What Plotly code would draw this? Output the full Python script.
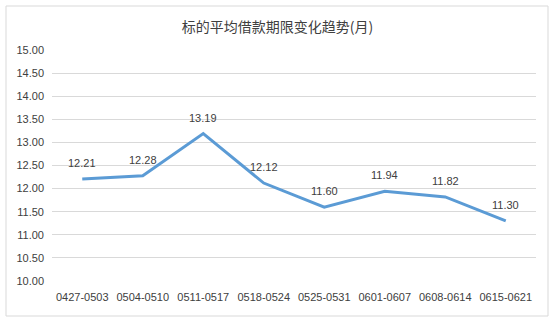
import plotly.graph_objects as go

categories = ["0427-0503", "0504-0510", "0511-0517", "0518-0524",
              "0525-0531", "0601-0607", "0608-0614", "0615-0621"]
values = [12.21, 12.28, 13.19, 12.12, 11.60, 11.94, 11.82, 11.30]
tick_vals = [10.0, 10.5, 11.0, 11.5, 12.0, 12.5, 13.0, 13.5, 14.0, 14.5, 15.0]
title_text = "标的平均借款期限变化趋势(月)"

W, H = 555, 323
L, R, T, B = 52, 19, 50, 42

fig = go.Figure()
fig.add_trace(go.Scatter(
    x=categories, y=values, mode="lines",
    line=dict(color="#5B9BD5", width=3),
    hoverinfo="skip",
))

for c, v in zip(categories, values):
    fig.add_annotation(x=c, y=v, text=f"{v:.2f}", showarrow=False,
                       yshift=16, yanchor="middle", xanchor="center",
                       font=dict(family="Liberation Sans", size=11, color="#404040"))

pw = W - L - R
ph = H - T - B
def px_x(p):
    return (p - L) / pw
def px_y(p):
    return 1 - (p - T) / ph

fig.add_shape(type="rect", xref="paper", yref="paper",
              x0=px_x(6), x1=px_x(548), y0=px_y(316), y1=px_y(6),
              line=dict(color="#D9D9D9", width=1), fillcolor="rgba(0,0,0,0)", layer="below")

fig.update_layout(
    width=W, height=H,
    margin=dict(l=L, r=R, t=T, b=B),
    paper_bgcolor="white", plot_bgcolor="white",
    showlegend=False,
    title=dict(text=title_text, x=0.5, xanchor="center", y=1 - 27 / H, yanchor="middle",
               font=dict(family="Noto Sans CJK SC", size=14, color="#404040")),
    xaxis=dict(type="category", showgrid=False, zeroline=False, showline=False,
               ticks="", ticklabelstandoff=8,
               tickfont=dict(family="Liberation Sans", size=11, color="#404040"),
               range=[-0.5, len(categories) - 0.5]),
    yaxis=dict(range=[10, 15], tickvals=tick_vals,
               ticktext=[f"{v:.2f}" for v in tick_vals],
               showgrid=True, gridcolor="#D9D9D9", gridwidth=1,
               zeroline=False, showline=False, ticks="", ticklabelstandoff=7,
               tickfont=dict(family="Liberation Sans", size=11, color="#404040")),
)

fig.write_html("out.html")
